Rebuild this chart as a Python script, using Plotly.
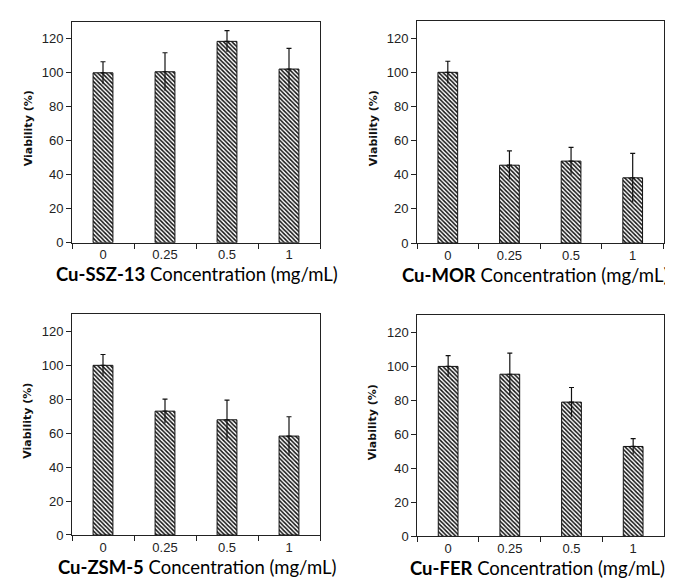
import plotly.graph_objects as go

categories = ["0", "0.25", "0.5", "1"]
materials = ["Cu-SSZ-13", "Cu-MOR", "Cu-ZSM-5", "Cu-FER"]

ssz13_values = [100, 100.6, 118.5, 102.2]
ssz13_errors = [6.5, 11.2, 6.3, 12.2]
mor_values = [100, 45.6, 48.0, 38.2]
mor_errors = [6.5, 8.4, 8.0, 14.3]
zsm5_values = [100, 73.0, 67.9, 58.3]
zsm5_errors = [6.4, 7.1, 11.6, 11.4]
fer_values = [100, 95.4, 79.0, 52.9]
fer_errors = [6.3, 12.4, 8.6, 4.6]

y_ticks = [0, 20, 40, 60, 80, 100, 120]

series = [
    (ssz13_values, ssz13_errors),
    (mor_values, mor_errors),
    (zsm5_values, zsm5_errors),
    (fer_values, fer_errors),
]

W, H = 673, 584
# plot boxes in pixels: (left, right, top, bottom)
boxes = [
    (64, 312, 14, 238),
    (409, 655.5, 13.3, 238.3),
    (64, 312, 310.7, 534.3),
    (409.3, 656, 311.7, 535.7),
]
title_centers = [188.5, 527, 188.5, 529]

fig = go.Figure()
layout = dict(
    width=W, height=H,
    margin=dict(l=0, r=0, t=0, b=0),
    paper_bgcolor="white", plot_bgcolor="white",
    showlegend=False, bargap=0.68,
    annotations=[],
)

tick_font = dict(family="Liberation Sans, Arial, sans-serif", size=13, color="#222222")

for i, ((vals, errs), box) in enumerate(zip(series, boxes)):
    l, r, t, b = box
    xa = "x" if i == 0 else f"x{i+1}"
    ya = "y" if i == 0 else f"y{i+1}"
    fig.add_trace(go.Bar(
        x=categories, y=vals, xaxis=xa, yaxis=ya,
        marker=dict(
            color="white",
            line=dict(color="#111111", width=1),
            pattern=dict(shape="\\", fgcolor="#111111", bgcolor="white",
                         size=3, solidity=0.5, fillmode="replace"),
        ),
        hoverinfo="skip",
    ))
    # upper error part with cap
    fig.add_trace(go.Scatter(
        x=categories, y=vals, xaxis=xa, yaxis=ya, mode="markers",
        marker=dict(size=1, opacity=0),
        error_y=dict(type="data", symmetric=False, array=errs,
                     arrayminus=[0] * len(errs), color="#111111",
                     thickness=1.2, width=2.5),
        hoverinfo="skip",
    ))
    # lower error part without cap
    fig.add_trace(go.Scatter(
        x=categories, y=vals, xaxis=xa, yaxis=ya, mode="markers",
        marker=dict(size=1, opacity=0),
        error_y=dict(type="data", symmetric=False, array=[0] * len(errs),
                     arrayminus=errs, color="#111111",
                     thickness=1.2, width=0),
        hoverinfo="skip",
    ))
    xkey = "xaxis" if i == 0 else f"xaxis{i+1}"
    ykey = "yaxis" if i == 0 else f"yaxis{i+1}"
    layout[xkey] = dict(
        domain=[l / W, r / W], anchor=ya, type="category",
        showline=True, linecolor="#222222", linewidth=1, mirror=True,
        ticks="outside", tickson="boundaries", ticklen=5, tickcolor="#222222",
        tickfont=tick_font, showgrid=False, zeroline=False, fixedrange=True,
    )
    layout[ykey] = dict(
        domain=[1 - b / H, 1 - t / H], anchor=xa, range=[0, 130],
        tickvals=y_ticks, showline=True, linecolor="#222222", linewidth=1,
        mirror=True, ticks="outside", ticklen=5, tickcolor="#222222",
        tickfont=tick_font, showgrid=False, zeroline=False, fixedrange=True,
    )
    # y-axis title
    layout["annotations"].append(dict(
        text="<b>Viability (%)</b>", textangle=-90,
        xref="paper", yref="paper",
        x=(l - 44) / W, y=1 - (t + b - 8) / 2 / H,
        xanchor="center", yanchor="middle", showarrow=False,
        font=dict(family="DejaVu Sans, sans-serif", size=11, color="#111111"),
    ))
    # x-axis title
    layout["annotations"].append(dict(
        text=f"<b>{materials[i]}</b> Concentration (mg/mL)",
        xref="paper", yref="paper",
        x=title_centers[i] / W, y=1 - (b + 32) / H,
        xanchor="center", yanchor="middle", showarrow=False,
        font=dict(family="Lato, sans-serif", size=18.5, color="#000000"),
    ))

fig.update_layout(**layout)
fig.write_html("out.html")
